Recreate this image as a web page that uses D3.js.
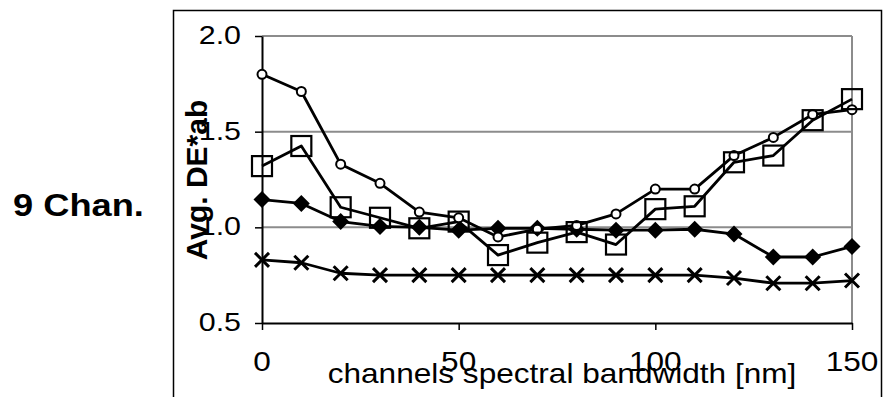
<!DOCTYPE html>
<html>
<head>
<meta charset="utf-8">
<script src="https://cdn.jsdelivr.net/npm/d3@7"></script>
<style>
  body { margin: 0; background: #fff; }
  svg text { font-family: "Liberation Sans", Arial, sans-serif; fill: #000; }
</style>
</head>
<body>
<svg id="chart" width="884" height="397"></svg>
<script>
'use strict';

const bandwidth = [0, 10, 20, 30, 40, 50, 60, 70, 80, 90, 100, 110, 120, 130, 140, 150];
const circleVals = [1.80, 1.71, 1.33, 1.23, 1.08, 1.05, 0.95, 0.99, 1.01, 1.07, 1.20, 1.20, 1.375, 1.47, 1.59, 1.615];
const squareVals = [1.32, 1.425, 1.105, 1.05, 0.995, 1.03, 0.855, 0.92, 0.975, 0.91, 1.095, 1.11, 1.34, 1.375, 1.56, 1.67];
const diamondVals = [1.145, 1.125, 1.03, 1.005, 1.0, 0.985, 0.995, 0.995, 0.99, 0.985, 0.985, 0.99, 0.965, 0.845, 0.845, 0.90];
const crossVals = [0.83, 0.815, 0.76, 0.75, 0.75, 0.75, 0.75, 0.75, 0.75, 0.75, 0.75, 0.75, 0.735, 0.708, 0.708, 0.722];
const xTicks = [0, 50, 100, 150];
const yTicks = [0.5, 1.0, 1.5, 2.0];

const STRETCH = 1.17;
const svg = d3.select("#chart");

// outer frame
svg.append("rect")
   .attr("x", 173.5).attr("y", 10.5)
   .attr("width", 708).attr("height", 400)
   .attr("fill", "none").attr("stroke", "#000").attr("stroke-width", 1.5);

const x = d3.scaleLinear().domain([0, 150]).range([262, 852]);
const y = d3.scaleLinear().domain([0.5, 2.0]).range([323, 36]);

// gridlines
svg.append("g")
   .selectAll("line")
   .data(yTicks.filter(d => d > 0.5))
   .join("line")
   .attr("x1", x(0)).attr("x2", x(150))
   .attr("y1", d => y(d)).attr("y2", d => y(d))
   .attr("stroke", "#8c8c8c").attr("stroke-width", 2);

svg.append("line")
   .attr("x1", x(150)).attr("x2", x(150))
   .attr("y1", y(2.0)).attr("y2", y(0.5))
   .attr("stroke", "#8c8c8c").attr("stroke-width", 2);

// axes
const yAxis = svg.append("g")
   .attr("transform", "translate(" + x(0) + ",0)")
   .call(d3.axisLeft(y).tickValues(yTicks).tickSize(7).tickSizeOuter(0).tickFormat(d3.format(".1f")));
const xAxis = svg.append("g")
   .attr("transform", "translate(0," + y(0.5) + ")")
   .call(d3.axisBottom(x).tickValues(xTicks).tickSize(7).tickSizeOuter(0));

[yAxis, xAxis].forEach(a => {
  a.select(".domain").attr("stroke", "#000").attr("stroke-width", 2);
  a.selectAll(".tick line").attr("stroke", "#000").attr("stroke-width", 1.5);
  a.selectAll(".tick text").remove();
});

// tick labels
svg.append("g").selectAll("text")
   .data(yTicks)
   .join("text")
   .attr("text-anchor", "end")
   .attr("transform", d => "translate(241," + (y(d) + 8) + ") scale(" + STRETCH + ",1)")
   .attr("font-size", 26)
   .text(d => d3.format(".1f")(d));

svg.append("g").selectAll("text")
   .data(xTicks)
   .join("text")
   .attr("text-anchor", "middle")
   .attr("transform", d => "translate(" + x(d) + ",371) scale(" + STRETCH + ",1)")
   .attr("font-size", 27)
   .text(d => d);

// titles
svg.append("text")
   .attr("text-anchor", "middle")
   .attr("transform", "translate(562,383) scale(" + STRETCH + ",1)")
   .attr("font-size", 27)
   .text("channels spectral bandwidth [nm]");

svg.append("text")
   .attr("text-anchor", "middle")
   .attr("font-weight", "bold")
   .attr("font-size", 30)
   .attr("transform", "translate(207,180) rotate(-90)")
   .text("Avg. DE*ab");

svg.append("text")
   .attr("font-weight", "bold")
   .attr("font-size", 31)
   .attr("transform", "translate(13,216) scale(" + STRETCH + ",1)")
   .text("9 Chan.");

// series
const line = d3.line().x(d => x(d.x)).y(d => y(d.y));
const toPts = vals => bandwidth.map((b, i) => ({x: b, y: vals[i]}));

function drawLine(vals) {
  svg.append("path")
     .attr("fill", "none")
     .attr("stroke", "#000")
     .attr("stroke-width", 2.8)
     .attr("stroke-linejoin", "round")
     .attr("d", line(toPts(vals)));
}

drawLine(crossVals);
drawLine(diamondVals);
drawLine(circleVals);
drawLine(squareVals);

svg.append("g").selectAll("path")
   .data(toPts(crossVals))
   .join("path")
   .attr("d", "M-7,-7L7,7M-7,7L7,-7")
   .attr("transform", d => "translate(" + x(d.x) + "," + y(d.y) + ")")
   .attr("stroke", "#000").attr("stroke-width", 3);

svg.append("g").selectAll("path")
   .data(toPts(diamondVals))
   .join("path")
   .attr("d", "M0,-8.5L8.5,0L0,8.5L-8.5,0Z")
   .attr("transform", d => "translate(" + x(d.x) + "," + y(d.y) + ")")
   .attr("fill", "#000");

svg.append("g").selectAll("circle")
   .data(toPts(circleVals))
   .join("circle")
   .attr("cx", d => x(d.x)).attr("cy", d => y(d.y))
   .attr("r", 4.5)
   .attr("fill", "#fff").attr("stroke", "#000").attr("stroke-width", 2);

svg.append("g").selectAll("rect")
   .data(toPts(squareVals))
   .join("rect")
   .attr("x", d => x(d.x) - 10).attr("y", d => y(d.y) - 10)
   .attr("width", 20).attr("height", 20)
   .attr("fill", "none").attr("stroke", "#000").attr("stroke-width", 2.2);
</script>
</body>
</html>
